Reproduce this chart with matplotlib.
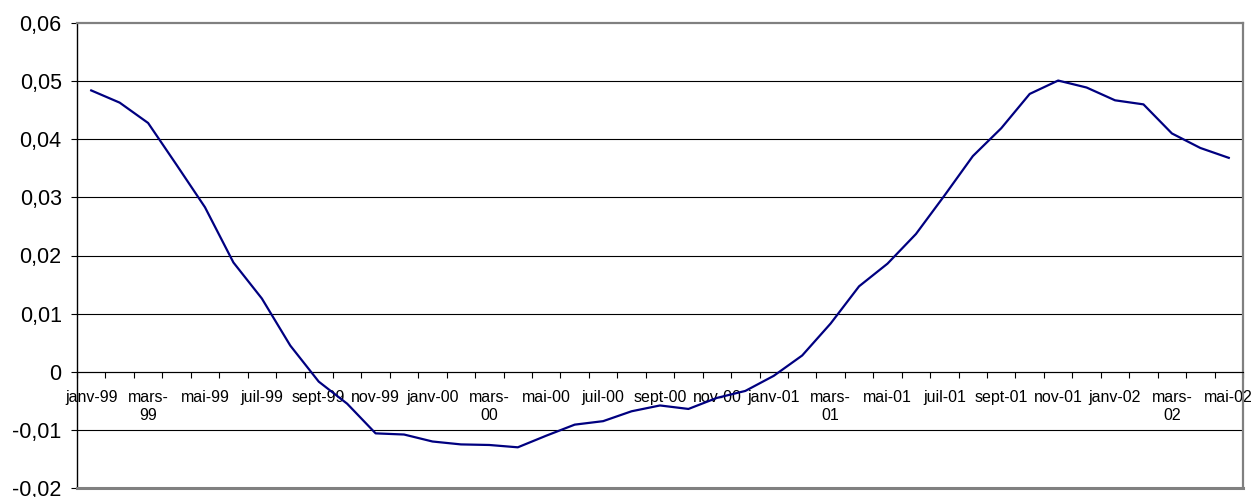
import numpy as np
import matplotlib
matplotlib.use("Agg")
import matplotlib.pyplot as plt
from matplotlib.ticker import FixedLocator, FuncFormatter

plt.rcParams['font.family'] = ['Liberation Sans', 'DejaVu Sans']

# monthly values, janv-99 .. mai-02
values = [0.0484, 0.0463, 0.0428, 0.0356, 0.0283, 0.0188, 0.0126, 0.0045,
          -0.0017, -0.0055, -0.0106, -0.0108,
          -0.0120, -0.0125, -0.0126, -0.0130, -0.0110, -0.0091, -0.0085, -0.0068,
          -0.0058, -0.0064, -0.0045, -0.0033,
          -0.0007, 0.0028, 0.0083, 0.0147, 0.0186, 0.0237, 0.0303, 0.0371,
          0.0419, 0.0478, 0.0501, 0.0489,
          0.0467, 0.0460, 0.0410, 0.0385, 0.0368]
tick_labels = ['janv-99', 'mars-\n99', 'mai-99', 'juil-99', 'sept-99', 'nov-99',
               'janv-00', 'mars-\n00', 'mai-00', 'juil-00', 'sept-00', 'nov-00',
               'janv-01', 'mars-\n01', 'mai-01', 'juil-01', 'sept-01', 'nov-01',
               'janv-02', 'mars-\n02', 'mai-02']
y_ticks = [-0.02, -0.01, 0, 0.01, 0.02, 0.03, 0.04, 0.05, 0.06]

n = len(values)
x = np.arange(n)

fig = plt.figure(figsize=(12.55, 4.97), dpi=100)
ax = fig.add_axes([77/1255, 9/497, 1166/1255, 465/497])

# horizontal gridlines
for v in y_ticks[1:-1]:
    ax.axhline(v, color='black', lw=0.8, zorder=1)

ax.plot(x, values, color='#000080', lw=1.6, zorder=3)

ax.set_xlim(-0.5, n - 0.5)
ax.set_ylim(-0.02, 0.06)

# frame
for s in ['top', 'right']:
    ax.spines[s].set_color('#808080')
    ax.spines[s].set_linewidth(1.6)
ax.spines['left'].set_color('black')
ax.spines['left'].set_linewidth(1.0)
ax.spines['bottom'].set_color('black')
ax.spines['bottom'].set_linewidth(0.8)
ax.spines['bottom'].set_position(('data', 0))
# lower frame edge
ax.axhline(-0.02, color='#808080', lw=2.2, zorder=4, clip_on=False)

ax.set_yticks(y_ticks)
ax.yaxis.set_major_formatter(FuncFormatter(lambda v, p: ('%g' % round(v, 2)).replace('.', ',')))
ax.tick_params(axis='y', length=4.5, width=0.8, pad=6.5, labelsize=15.5, direction='out')

ax.set_xticks(x[::2])
ax.set_xticklabels(tick_labels, fontsize=11.5, linespacing=1.25)
ax.xaxis.set_minor_locator(FixedLocator(np.arange(n + 1) - 0.5))
ax.tick_params(axis='x', which='major', length=0, pad=13)
ax.tick_params(axis='x', which='minor', length=4.5, width=0.8, direction='out')

fig.savefig('out.png', dpi=100, facecolor='white')
